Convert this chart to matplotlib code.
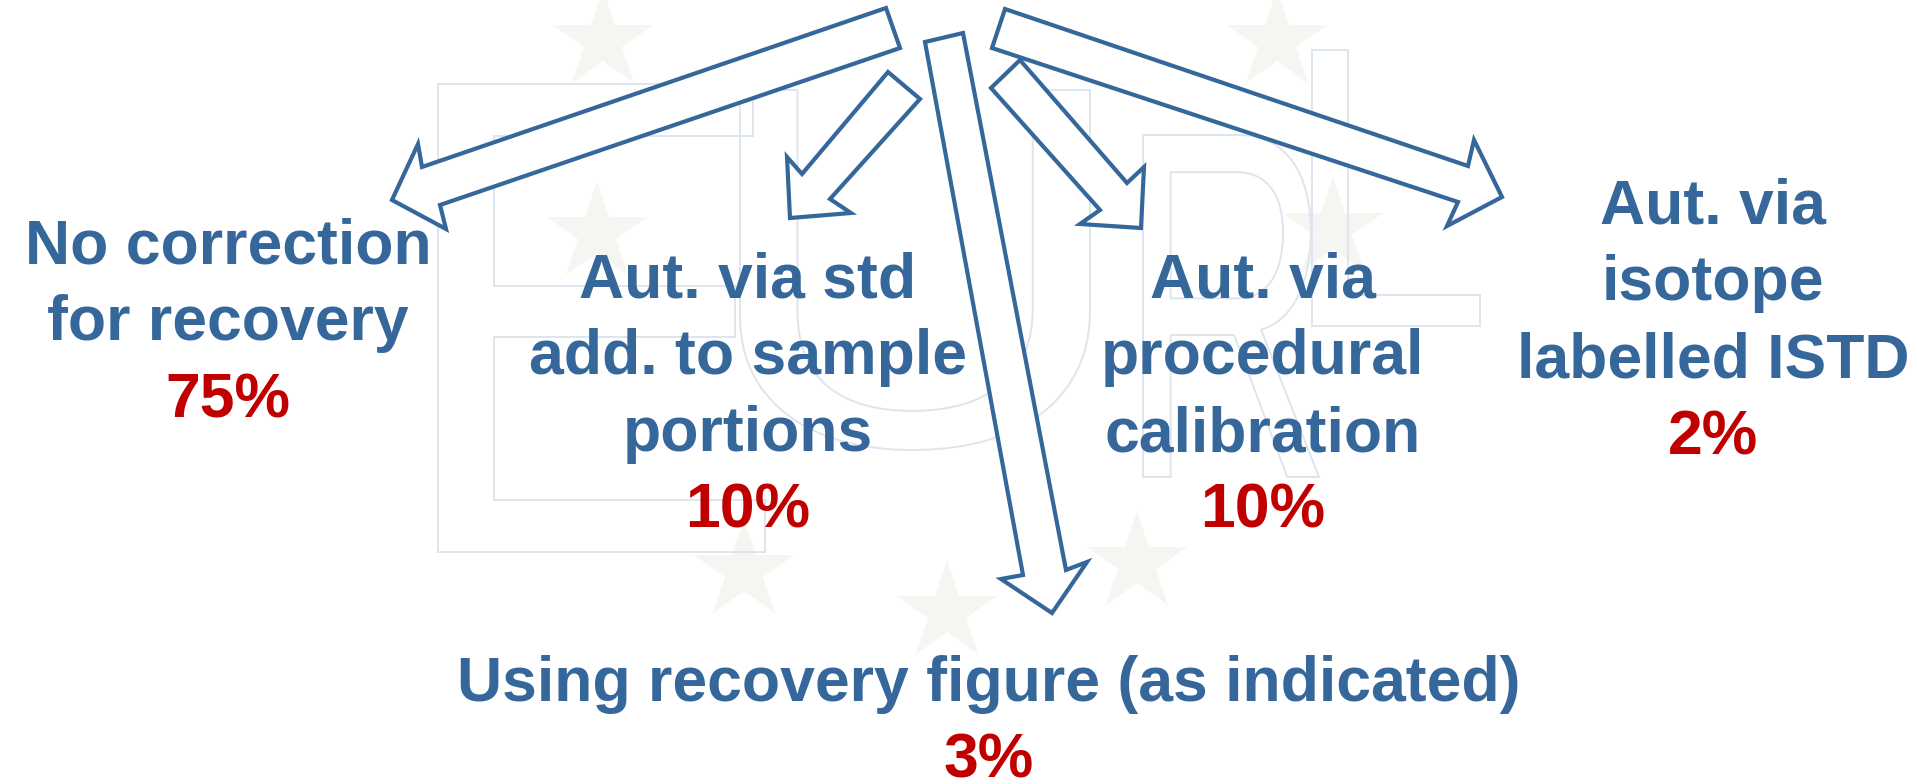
import matplotlib
matplotlib.use("Agg")
import matplotlib.pyplot as plt
from matplotlib.patches import Polygon, PathPatch
from matplotlib.textpath import TextPath
from matplotlib.font_manager import FontProperties
from matplotlib.transforms import Affine2D

# ---- data ----
labels = [
    ["No correction", "for recovery"],
    ["Aut. via std", "add. to sample", "portions"],
    ["Aut. via", "procedural", "calibration"],
    ["Aut. via", "isotope", "labelled ISTD"],
    ["Using recovery figure (as indicated)"],
]
shares = [75, 10, 10, 2, 3]

# ---- layout (pixel space of a 1917x784 canvas) ----
label_x = [228, 748, 1263, 1713, 989]
label_first_baseline = [263, 297, 297, 223, 701]
line_step = 77

arrows = [
    [(886, 8), (422, 167), (418, 144), (392, 200), (446, 229), (440, 205), (900, 48)],
    [(888, 72), (802, 174), (787, 157), (790, 218), (851, 213), (830, 199), (920, 99)],
    [(925, 42), (1023, 575), (1001, 579), (1052, 613), (1087, 562), (1066, 570), (963, 33)],
    [(1020, 60), (1127, 183), (1144, 167), (1141, 228), (1080, 224), (1100, 210), (991, 88)],
    [(1005, 9), (1468, 166), (1474, 140), (1502, 197), (1447, 226), (1458, 202), (992, 48)],
]

# faint watermark
stars = [(603, 41), (1277, 41), (597, 233), (1333, 229), (744, 571), (947, 612), (1137, 563)]
letters = ["E", "U", "R", "L"]
letter_boxes = [(438, 765, 84, 552), (740, 1090, 90, 450), (1143, 1319, 135, 477), (1312, 1480, 50, 326)]

BLUE = "#35679b"
RED = "#c00000"

W, H = 1917, 784
fig = plt.figure(figsize=(W / 100, H / 100), dpi=100)
ax = fig.add_axes([0, 0, 1, 1])
ax.set_xlim(0, W)
ax.set_ylim(H, 0)
ax.axis("off")

# watermark stars
sx = [s[0] for s in stars]
sy = [s[1] for s in stars]
ax.plot(sx, sy, linestyle="none", marker="*", markersize=75, color="#f5f5f1",
        markeredgewidth=0, zorder=1)

# watermark letters (outlined, slightly slanted)
fp = FontProperties(family="Liberation Sans")
for ch, (x0, x1, y0, y1) in zip(letters, letter_boxes):
    tp = TextPath((0, 0), ch, size=1, prop=fp)
    ext = tp.get_extents()
    sxf = (x1 - x0) / ext.width
    syf = (y1 - y0) / ext.height
    tr = (Affine2D().translate(-ext.x0, -ext.y0).scale(sxf, -syf)
          .translate(x0, y1))
    path = tr.transform_path(tp)
    ax.add_patch(PathPatch(path, facecolor="none", edgecolor="#dde5ee",
                           lw=1.4, zorder=2))

# arrows
for pts in arrows:
    ax.add_patch(Polygon(pts, closed=True, facecolor="white", edgecolor=BLUE,
                         lw=3.0, joinstyle="miter", zorder=5))

# labels
for lines, share, x, b0 in zip(labels, shares, label_x, label_first_baseline):
    for i, line in enumerate(lines):
        ax.text(x, b0 + i * line_step, line, ha="center", va="baseline",
                fontsize=45, fontweight="bold", family="Liberation Sans",
                color=BLUE, zorder=6)
    ax.text(x, b0 + len(lines) * line_step, f"{share}%", ha="center",
            va="baseline", fontsize=45, fontweight="bold",
            family="Liberation Sans", color=RED, zorder=6)

fig.savefig("out.png", dpi=100, facecolor="white")
